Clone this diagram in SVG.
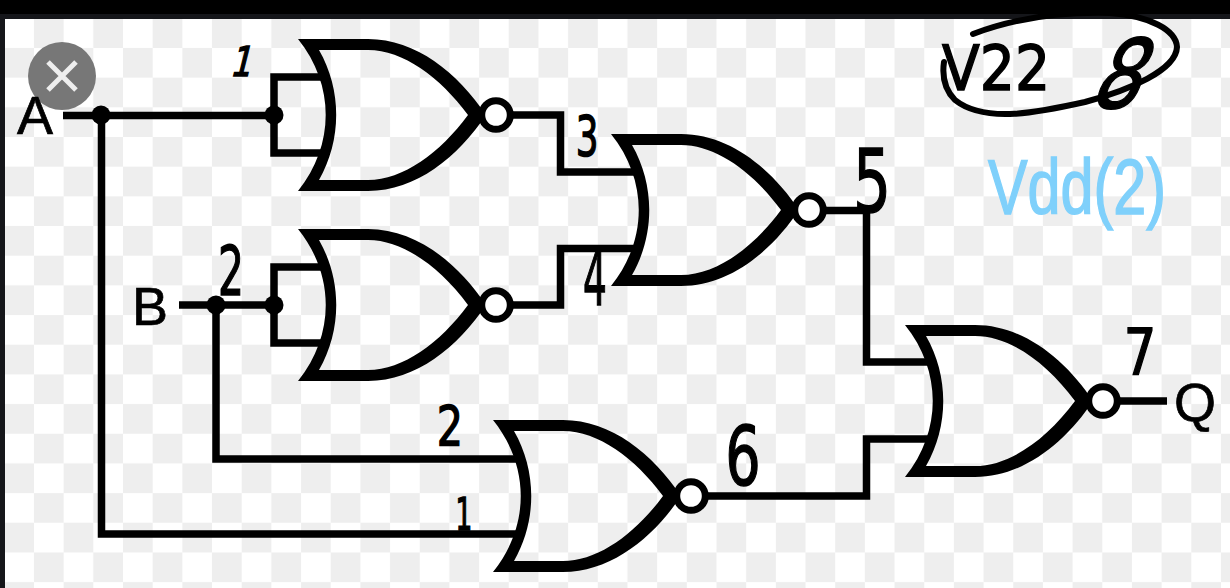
<svg xmlns="http://www.w3.org/2000/svg" width="1230" height="588" viewBox="0 0 1230 588">
<style>
.w{fill:none;stroke:#000;stroke-width:7.5;stroke-linejoin:miter}
.body{fill:#000;fill-rule:evenodd}
.bub{fill:#fff;stroke:#000;stroke-width:7}
.dot{fill:#000}
.lab{font-family:"Liberation Sans",Arial,sans-serif;font-size:54px;fill:#000;stroke:#000;stroke-width:.7}
.hw{font-family:"DejaVu Sans",sans-serif;fill:#000;stroke:#000;stroke-width:1.5;text-anchor:middle}
</style>
<defs>
<pattern id="chk" x="4.3" y="18.3" width="59.35" height="59.35" patternUnits="userSpaceOnUse">
<rect width="59.35" height="59.35" fill="#fff"/>
<rect x="29.67" width="29.68" height="29.67" fill="#eee"/>
<rect y="29.67" width="29.67" height="29.68" fill="#eee"/>
</pattern>
<g id="nor">
<path class="body" d="M0 -76H70C118 -76 160 -42 188 0C160 42 118 76 70 76H0C37 30 37 -30 0 -76ZM21 -65C44 -25 44 25 21 65H70C105 65 142 38 170 0C142 -38 105 -65 70 -65Z"/>
<circle cx="198" cy="0" r="14.300" class="bub"/>
</g>
</defs>
<g id="background">
<rect width="1230" height="588" fill="url(#chk)"/>
<rect width="1230" height="19" fill="#15161a"/>
<rect width="1230" height="14" fill="#000"/>
<rect y="14" width="5" height="574" fill="#15161a"/>
</g>
<g id="connectors">
<path class="w" d="M63 115.500H275"/>
<path class="w" d="M101.500 115V534H518"/>
<path class="w" d="M322 77H274V153H322"/>
<path class="w" d="M179 305H275"/>
<path class="w" d="M216 305V459H518"/>
<path class="w" d="M322 267H274V343H322"/>
<path class="w" d="M510 115H560.500V172H636"/>
<path class="w" d="M510 305H560.500V248.500H636"/>
<path class="w" d="M823 210.500H866.500V362H930"/>
<path class="w" d="M705 496H866.500V439H930"/>
<path class="w" d="M1117 401H1167"/>
<circle class="dot" cx="101" cy="115" r="9.500"/>
<circle class="dot" cx="274" cy="115" r="9.500"/>
<circle class="dot" cx="216" cy="305" r="9.500"/>
<circle class="dot" cx="274" cy="305" r="9.500"/>
</g>
<g id="gate1"><use href="#nor" x="298" y="115"/></g>
<g id="gate2"><use href="#nor" x="298" y="305"/></g>
<g id="gate3"><use href="#nor" x="611" y="210"/></g>
<g id="gate4"><use href="#nor" x="493" y="496"/></g>
<g id="gate5"><use href="#nor" x="905" y="401"/></g>
<g id="close-button">
<circle cx="62" cy="76" r="34" fill="#777"/>
<path d="M48 62L76 90M76 62L48 90" stroke="#eee" stroke-width="5" fill="none"/>
</g>
<g id="label-A"><text class="lab" x="17" y="134">A</text></g>
<g id="label-B"><text class="lab" x="132" y="325">B</text></g>
<g id="label-Q"><text class="lab" x="1174" y="421">Q</text></g>
<g id="notes">
<text class="hw" font-size="41" transform="translate(240 76) skewX(-14) scale(.8 1)">1</text>
<text class="hw" font-size="68" transform="translate(231 295) scale(.6 1)">2</text>
<text class="hw" font-size="55" transform="translate(587 155) scale(.65 1)">3</text>
<text class="hw" font-size="75" transform="translate(595 305) scale(.5 1)">4</text>
<text class="hw" font-size="88" transform="translate(872 212) scale(.68 1)">5</text>
<text class="hw" font-size="55" transform="translate(450 445) scale(.75 1)">2</text>
<text class="hw" font-size="44" transform="translate(464 530) scale(.6 1)">1</text>
<text class="hw" font-size="82" transform="translate(743 485) scale(.68 1)">6</text>
<text class="hw" font-size="64" transform="translate(1140 375) scale(.8 1)">7</text>
<text class="hw" font-size="62" style="text-anchor:start" x="942" y="90" textLength="108" lengthAdjust="spacingAndGlyphs">V22</text>
<text class="hw" font-size="96" transform="translate(1112 108) skewX(-22) scale(.8 1)">8</text>
<path d="M973 34C1020 16 1070 12 1110 13C1150 16 1176 30 1177 47C1176 70 1130 90 1085 102C1040 112 985 124 955 100C945 90 942 76 944 62" fill="none" stroke="#000" stroke-width="6" stroke-linecap="round"/>
<text font-family="'Liberation Sans',sans-serif" font-size="78" fill="#7fd0fb" stroke="#7fd0fb" stroke-width="1.500" x="988" y="214" textLength="178" lengthAdjust="spacingAndGlyphs">Vdd(2)</text>
</g>
</svg>
